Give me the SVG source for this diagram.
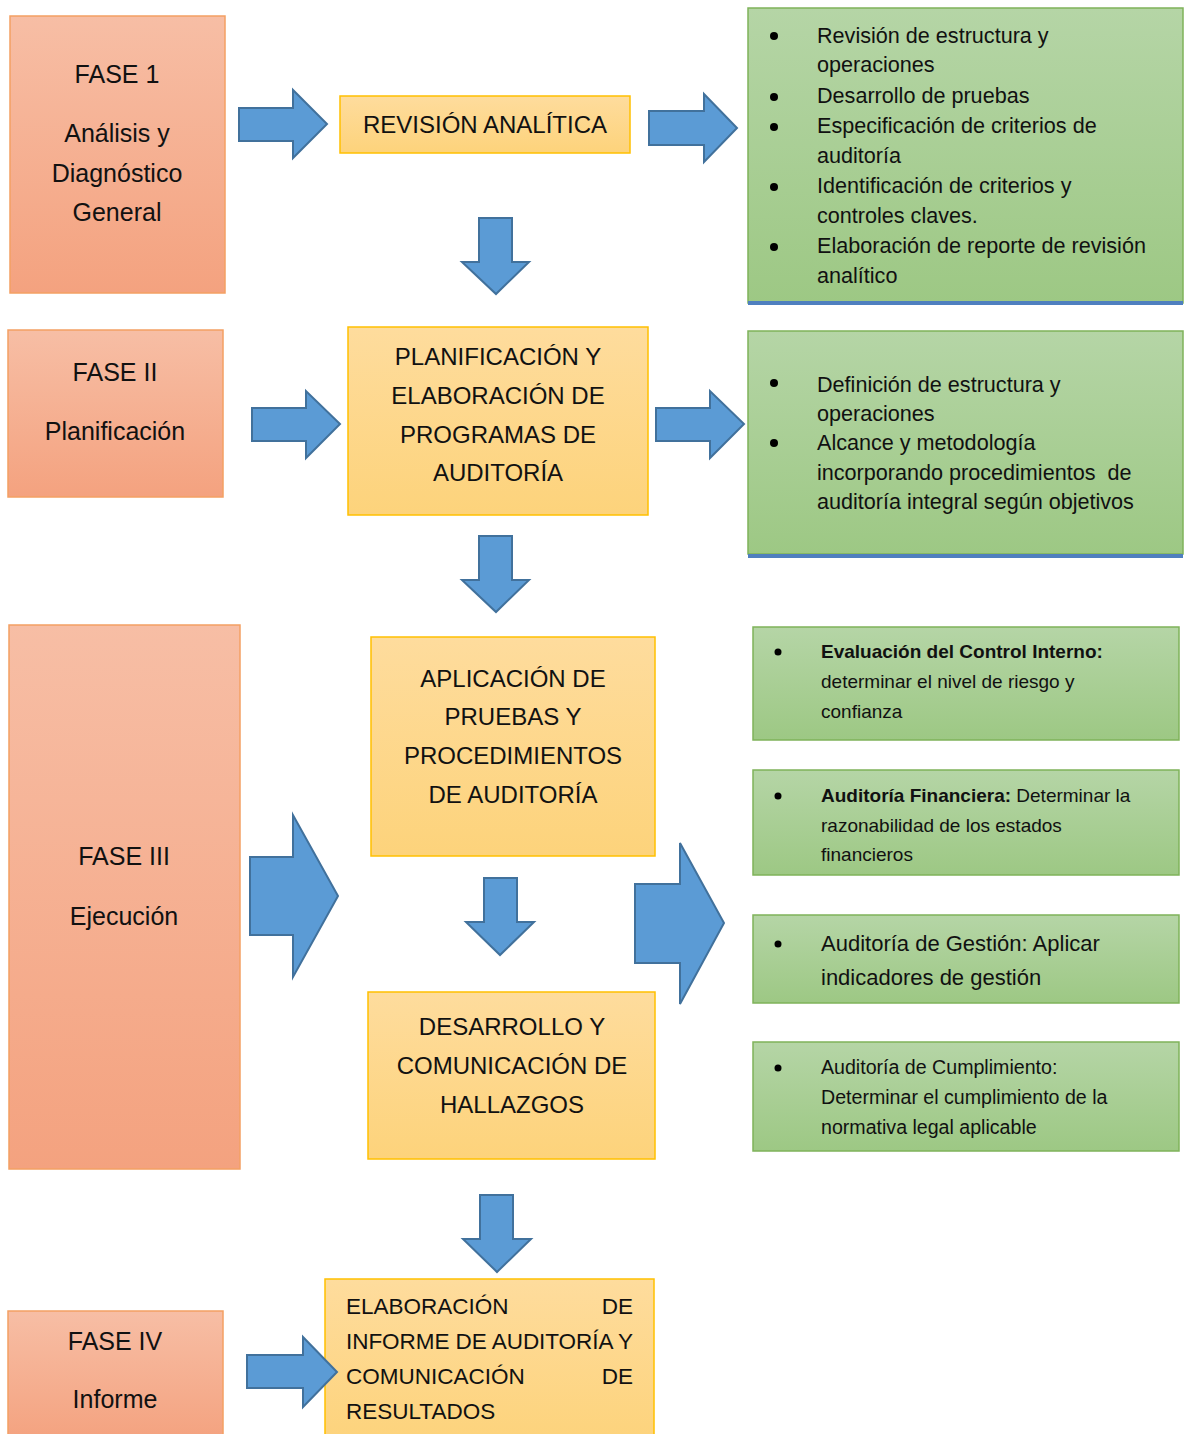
<svg xmlns="http://www.w3.org/2000/svg" width="1184" height="1434" viewBox="0 0 1184 1434">
<defs>
<linearGradient id="gOr" x1="0" y1="0" x2="0" y2="1"><stop offset="0" stop-color="#f7bea5"/><stop offset="1" stop-color="#f4a27f"/></linearGradient>
<linearGradient id="gYe" x1="0" y1="0" x2="0" y2="1"><stop offset="0" stop-color="#fedc9d"/><stop offset="1" stop-color="#fdd37b"/></linearGradient>
<linearGradient id="gGr" x1="0" y1="0" x2="0" y2="1"><stop offset="0" stop-color="#b5d5a6"/><stop offset="1" stop-color="#9dc884"/></linearGradient>
</defs>
<style>
text{font-family:"Liberation Sans",Arial,sans-serif;fill:#111}
.or{fill:url(#gOr);stroke:#f4a063;stroke-width:1.5}
.ye{fill:url(#gYe);stroke:#ffc000;stroke-width:1.5}
.gr{fill:url(#gGr);stroke:#7fb35a;stroke-width:1.5}
.bl{fill:#4f7fbf}
.ar{fill:#5b9bd5;stroke:#41719c;stroke-width:2;stroke-linejoin:miter}
.ph{font-size:25px;text-anchor:middle}
.yt{font-size:24px;text-anchor:middle}
.g1{font-size:21.6px}
.g3{font-size:19px}
.b{font-weight:bold}
</style>

<g id="fase1">
<rect class="or" x="10" y="16" width="215" height="277"/>
<text class="ph" x="117" y="83">FASE 1</text>
<text class="ph" x="117" y="142">Análisis y</text>
<text class="ph" x="117" y="182">Diagnóstico</text>
<text class="ph" x="117" y="221">General</text>
</g>

<g id="revision">
<rect class="ye" x="340" y="96" width="290" height="57"/>
<text class="yt" x="485" y="133">REVISIÓN ANALÍTICA</text>
</g>

<g id="green1">
<rect class="gr" x="748" y="8" width="435" height="295"/>
<rect class="bl" x="748" y="301" width="435" height="4"/>
<g class="g1">
<circle cx="774" cy="36" r="4"/><circle cx="774" cy="97" r="4"/><circle cx="774" cy="127" r="4"/><circle cx="774" cy="187" r="4"/><circle cx="774" cy="247" r="4"/>
<text x="817" y="43">Revisión de estructura y</text>
<text x="817" y="72">operaciones</text>
<text x="817" y="103">Desarrollo de pruebas</text>
<text x="817" y="133">Especificación de criterios de</text>
<text x="817" y="163">auditoría</text>
<text x="817" y="193">Identificación de criterios y</text>
<text x="817" y="223">controles claves.</text>
<text x="817" y="253">Elaboración de reporte de revisión</text>
<text x="817" y="283">analítico</text>
</g>
</g>

<g id="fase2">
<rect class="or" x="8" y="330" width="215" height="167"/>
<text class="ph" x="115" y="381">FASE II</text>
<text class="ph" x="115" y="440">Planificación</text>
</g>

<g id="planificacion">
<rect class="ye" x="348" y="327" width="300" height="188"/>
<text class="yt" x="498" y="365">PLANIFICACIÓN Y</text>
<text class="yt" x="498" y="404">ELABORACIÓN DE</text>
<text class="yt" x="498" y="443">PROGRAMAS DE</text>
<text class="yt" x="498" y="481">AUDITORÍA</text>
</g>

<g id="green2">
<rect class="gr" x="748" y="331" width="435" height="223"/>
<rect class="bl" x="748" y="554" width="435" height="4"/>
<g class="g1">
<circle cx="774" cy="383" r="4"/><circle cx="774" cy="443" r="4"/>
<text x="817" y="392">Definición de estructura y</text>
<text x="817" y="421">operaciones</text>
<text x="817" y="450">Alcance y metodología</text>
<text x="817" y="480" xml:space="preserve">incorporando procedimientos  de</text>
<text x="817" y="509">auditoría integral según objetivos</text>
</g>
</g>

<g id="fase3">
<rect class="or" x="9" y="625" width="231" height="544"/>
<text class="ph" x="124" y="865">FASE III</text>
<text class="ph" x="124" y="925">Ejecución</text>
</g>

<g id="aplicacion">
<rect class="ye" x="371" y="637" width="284" height="219"/>
<text class="yt" x="513" y="687">APLICACIÓN DE</text>
<text class="yt" x="513" y="725">PRUEBAS Y</text>
<text class="yt" x="513" y="764">PROCEDIMIENTOS</text>
<text class="yt" x="513" y="803">DE AUDITORÍA</text>
</g>

<g id="desarrollo">
<rect class="ye" x="368" y="992" width="287" height="167"/>
<text class="yt" x="512" y="1035">DESARROLLO Y</text>
<text class="yt" x="512" y="1074">COMUNICACIÓN DE</text>
<text class="yt" x="512" y="1113">HALLAZGOS</text>
</g>

<g id="control-interno">
<rect class="gr" x="753" y="627" width="426" height="113"/>
<circle cx="778" cy="652" r="3.5"/>
<text class="g3" x="821" y="658"><tspan class="b">Evaluación del Control Interno:</tspan></text>
<text class="g3" x="821" y="688">determinar el nivel de riesgo y</text>
<text class="g3" x="821" y="718">confianza</text>
</g>

<g id="financiera">
<rect class="gr" x="753" y="770" width="426" height="105"/>
<circle cx="778" cy="796" r="3.5"/>
<text class="g3" x="821" y="802"><tspan class="b">Auditoría Financiera:</tspan> Determinar la</text>
<text class="g3" x="821" y="832">razonabilidad de los estados</text>
<text class="g3" x="821" y="861">financieros</text>
</g>

<g id="gestion">
<rect class="gr" x="753" y="915" width="426" height="88"/>
<circle cx="778" cy="944" r="3.5"/>
<text x="821" y="951" style="font-size:22px">Auditoría de Gestión: Aplicar</text>
<text x="821" y="985" style="font-size:22px">indicadores de gestión</text>
</g>

<g id="cumplimiento">
<rect class="gr" x="753" y="1042" width="426" height="109"/>
<circle cx="778" cy="1068" r="3.5"/>
<text x="821" y="1074" style="font-size:19.6px">Auditoría de Cumplimiento:</text>
<text x="821" y="1104" style="font-size:19.6px">Determinar el cumplimiento de la</text>
<text x="821" y="1134" style="font-size:19.6px">normativa legal aplicable</text>
</g>

<g id="fase4">
<rect class="or" x="8" y="1311" width="215" height="130"/>
<text class="ph" x="115" y="1350">FASE IV</text>
<text class="ph" x="115" y="1408">Informe</text>
</g>

<g id="informe">
<rect class="ye" x="325" y="1279" width="329" height="165"/>
<g style="font-size:22.5px">
<text x="346" y="1314">ELABORACIÓN</text>
<text x="633" y="1314" text-anchor="end">DE</text>
<text x="346" y="1349" textLength="287" lengthAdjust="spacing">INFORME DE AUDITORÍA Y</text>
<text x="346" y="1384">COMUNICACIÓN</text>
<text x="633" y="1384" text-anchor="end">DE</text>
<text x="346" y="1419">RESULTADOS</text>
</g>
</g>

<g id="connectors">
<polygon class="ar" points="239,108 293,108 293,90 327,124 293,158 293,141 239,141"/>
<polygon class="ar" points="649,111 704,111 704,94 737,128 704,162 704,145 649,145"/>
<polygon class="ar" points="479,218 512,218 512,262 529,262 496,294 462,262 479,262"/>
<polygon class="ar" points="252,408 306,408 306,391 340,424 306,458 306,441 252,441"/>
<polygon class="ar" points="656,408 710,408 710,391 744,424 710,458 710,441 656,441"/>
<polygon class="ar" points="479,536 512,536 512,580 529,580 496,612 462,580 479,580"/>
<polygon class="ar" points="250,857 293,857 293,815 338,896 293,977 293,935 250,935"/>
<polygon class="ar" points="484,878 517,878 517,922 534,922 500,955 466,922 484,922"/>
<polygon class="ar" points="635,884 680,884 680,843 724,923 680,1004 680,963 635,963"/>
<polygon class="ar" points="480,1195 513,1195 513,1239 531,1239 497,1272 463,1239 480,1239"/>
<polygon class="ar" points="247,1355 303,1355 303,1337 337,1372 303,1407 303,1388 247,1388"/>
</g>
</svg>
